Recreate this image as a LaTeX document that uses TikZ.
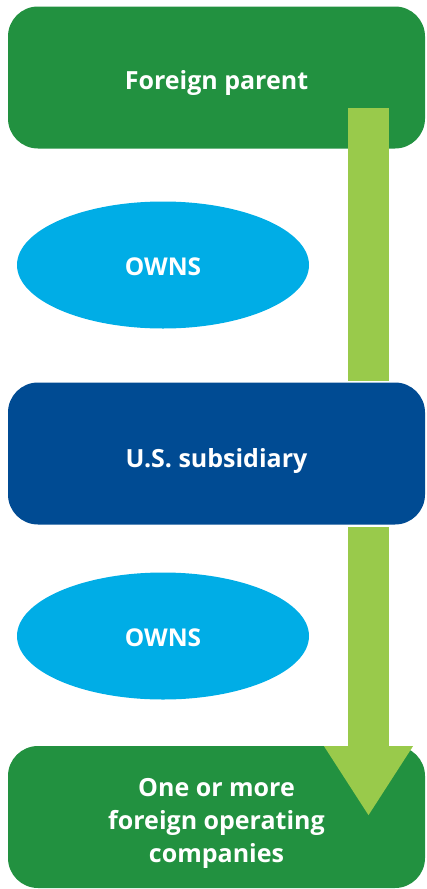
\documentclass[tikz,border=0pt]{standalone}
\usepackage{fontspec}
\setmainfont{Open Sans}
\usetikzlibrary{arrows.meta,shapes.geometric}
\definecolor{dgreen}{HTML}{229140}
\definecolor{lgreen}{HTML}{99CA4B}
\definecolor{dblue}{HTML}{004B93}
\definecolor{cyanb}{HTML}{00ADE6}
\newcommand{\shiftdown}[2]{\raisebox{-#1}[\height][\depth]{#2}}
\tikzset{
  box/.style={rounded corners=30pt, minimum width=417pt, minimum height=142pt, inner sep=0pt,
    text=white, font=\fontsize{25}{33}\selectfont\bfseries, align=center},
  owns/.style={ellipse, fill=cyanb, minimum width=292pt, minimum height=127pt, inner sep=0pt,
    text=white, font=\fontsize{24.5}{33}\selectfont\bfseries},
  shaft/.style={draw=lgreen, line width=41pt},
}
\begin{document}
\begin{tikzpicture}[x=1pt,y=-1pt]
\useasboundingbox (0,0) rectangle (426,889);
\node[box, fill=dgreen] (parent) at (216.5,77.5) {\shiftdown{6pt}{Foreign parent}};
\node[owns] (own1) at (163,265) {\shiftdown{1.5pt}{OWNS}};
\node[owns] (own2) at (163,636) {\shiftdown{1.5pt}{OWNS}};
\coordinate (s1a) at (368.5,108);
\coordinate (s1b) at (368.5,381);
\draw[shaft] (s1a) -- (s1b);
\node[box, fill=dblue] (sub) at (216.5,453.5) {\shiftdown{7pt}{U.S. subsidiary}};
\node[box, fill=dgreen] (ops) at (216.5,817) {\shiftdown{5.5pt}{\begin{tabular}{@{}c@{}}One or more\\foreign operating\\companies\end{tabular}}};
\coordinate (s2a) at (368.5,527);
\coordinate (s2b) at (368.5,816);
\draw[shaft, -{Triangle[length=70pt,width=84pt,fill=lgreen]}] (s2a) -- (s2b);
\end{tikzpicture}
\end{document}
